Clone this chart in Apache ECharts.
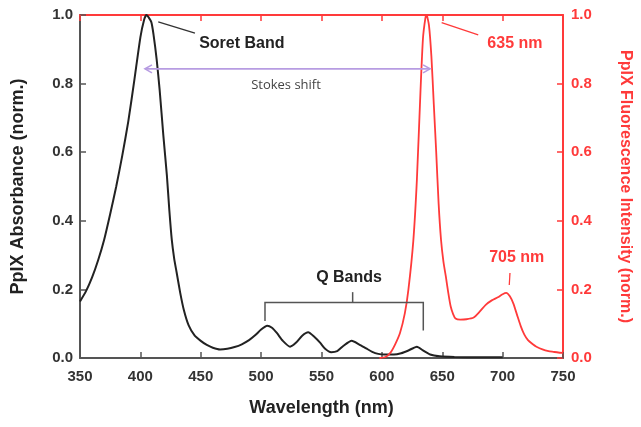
<!DOCTYPE html>
<html><head><meta charset="utf-8">
<script src="https://cdn.jsdelivr.net/npm/echarts@6/dist/echarts.min.js"></script>
<style>html,body{margin:0;padding:0;background:#fff}#c{width:641px;height:427px}</style>
</head><body><div id="c"></div>
<script>
// ---- data ----
const xTicks = [350, 400, 450, 500, 550, 600, 650, 700, 750];
const yTicks = [0.0, 0.2, 0.4, 0.6, 0.8, 1.0];
const absWavelength = [350,355,360,365,370,375,380,385,390,395,400,403,405,409,411,413.5,416,419,422,424,426,428,430,433,436,440,445,450,455,460,466,472,478,484,490,495,500,505,509,513,518,524,529,534,539,544,549,553,558,563,568,575,581,587,592,597,602,610,616,622,629,634,640,648,660,680,700];
const absorbance    = [0.165,0.195,0.235,0.285,0.345,0.42,0.50,0.59,0.69,0.81,0.935,0.985,1.0,0.98,0.94,0.87,0.78,0.65,0.53,0.43,0.345,0.29,0.25,0.19,0.14,0.095,0.065,0.05,0.038,0.03,0.025,0.027,0.032,0.04,0.052,0.066,0.083,0.094,0.088,0.073,0.05,0.033,0.045,0.065,0.075,0.062,0.044,0.027,0.017,0.02,0.035,0.05,0.04,0.028,0.018,0.012,0.01,0.01,0.014,0.022,0.033,0.022,0.01,0.005,0.003,0.002,0.002];
const fluoWavelength = [598,603,607,611,615,619,622,626,629,632,634,636,637,639,641,643,645,647,649,651,653,655,657,659,661,665,670,676,681,686,691,696,700,703,706,709,712,715,718,721,725,728,733,738,742,746,750];
const fluorescence   = [0,0.003,0.015,0.04,0.073,0.13,0.2,0.34,0.52,0.78,0.93,0.99,1.0,0.97,0.88,0.74,0.6,0.45,0.344,0.28,0.237,0.19,0.15,0.128,0.115,0.112,0.113,0.118,0.135,0.155,0.168,0.177,0.186,0.19,0.18,0.158,0.125,0.093,0.068,0.052,0.04,0.033,0.025,0.02,0.018,0.016,0.015];
// annotations in data coordinates (wavelength, value)
const soretLabel = {text: 'Soret Band', at: [484, 0.917]};
const soretPointer = [[414.8, 0.980], [445.2, 0.947]];
const peakLabel = {text: '635 nm', at: [710.2, 0.917]};
const peakPointer = [[649.5, 0.978], [679.8, 0.942]];
const shoulderLabel = {text: '705 nm', at: [711.7, 0.292]};
const shoulderPointer = [[706.1, 0.248], [705.5, 0.213]];
const stokesArrow = [[403.8, 0.843], [639.9, 0.843]];
const stokesLabel = {text: 'Stokes shift', at: [520.6, 0.794]};
const qLabel = {text: 'Q Bands', at: [572.8, 0.233]};
const qBracket = [[503.2, 0.108], [503.2, 0.162], [634.3, 0.162], [634.3, 0.080]];
const qBracketTick = [[575.8, 0.162], [575.8, 0.192]];

const RED = '#ff3a3a', DARK = '#222', AX = '#555';
const chart = echarts.init(document.getElementById('c'), null, {renderer: 'canvas'});
const F = 'Liberation Sans, Arial, sans-serif';
const zip = (a, b) => a.map((v, i) => [v, b[i]]);

chart.setOption({
  animation: false,
  grid: {left: 80, right: 78, top: 15, bottom: 69, containLabel: false},
  xAxis: [{
    type: 'value', min: xTicks[0], max: xTicks[xTicks.length - 1], interval: 50, position: 'bottom',
    name: 'Wavelength (nm)', nameLocation: 'middle', nameGap: 41,
    nameTextStyle: {fontFamily: F, fontWeight: 'bold', fontSize: 18, color: '#222'},
    axisLine: {show: true, onZero: false, lineStyle: {color: AX, width: 2}},
    axisTick: {show: true, inside: true, length: 6, lineStyle: {color: AX, width: 1.5}},
    axisLabel: {margin: 11, fontFamily: F, fontWeight: 'bold', fontSize: 15, color: '#333'},
    splitLine: {show: false}
  }, {
    type: 'value', min: xTicks[0], max: xTicks[xTicks.length - 1], interval: 50, position: 'top',
    axisLine: {show: true, onZero: false, lineStyle: {color: RED, width: 2}},
    axisTick: {show: true, inside: true, length: 6, lineStyle: {color: RED, width: 1.5}},
    axisLabel: {show: false}, splitLine: {show: false}
  }],
  yAxis: [{
    type: 'value', min: 0, max: 1, interval: 0.2, position: 'left',
    name: 'PpIX Absorbance (norm.)', nameLocation: 'middle', nameGap: 53, nameRotate: 90,
    nameTextStyle: {fontFamily: F, fontWeight: 'bold', fontSize: 18, color: '#222'},
    axisLine: {show: true, onZero: false, lineStyle: {color: AX, width: 2}},
    axisTick: {show: true, inside: true, length: 6, lineStyle: {color: AX, width: 1.5}},
    axisLabel: {margin: 7, fontFamily: F, fontWeight: 'bold', fontSize: 15, color: '#333', formatter: v => v.toFixed(1)},
    splitLine: {show: false}
  }, {
    type: 'value', min: 0, max: 1, interval: 0.2, position: 'right',
    name: 'PpIX Fluorescence Intensity (norm.)', nameLocation: 'middle', nameGap: 54, nameRotate: -90,
    nameTextStyle: {fontFamily: F, fontWeight: 'bold', fontSize: 16, color: RED},
    axisLine: {show: true, onZero: false, lineStyle: {color: RED, width: 2}},
    axisTick: {show: true, inside: true, length: 6, lineStyle: {color: RED, width: 1.5}},
    axisLabel: {margin: 8, fontFamily: F, fontWeight: 'bold', fontSize: 15, color: RED, formatter: v => v.toFixed(1)},
    splitLine: {show: false}
  }],
  series: [{
    type: 'line', name: 'Absorbance', xAxisIndex: 0, yAxisIndex: 0,
    data: zip(absWavelength, absorbance), showSymbol: false, smooth: 0.2,
    lineStyle: {color: DARK, width: 2}, z: 3
  }, {
    type: 'line', name: 'Fluorescence', xAxisIndex: 0, yAxisIndex: 1,
    data: zip(fluoWavelength, fluorescence), showSymbol: false, smooth: 0.2,
    lineStyle: {color: RED, width: 1.8}, z: 4
  }]
});

function P(pt) { return chart.convertToPixel({xAxisIndex: 0, yAxisIndex: 0}, pt); }
function line(a, b, color, w) {
  const p = P(a), q = P(b);
  return {type: 'line', shape: {x1: p[0], y1: p[1], x2: q[0], y2: q[1]}, style: {stroke: color, lineWidth: w}, z: 10};
}
function text(lbl, color, font) {
  const p = P(lbl.at);
  return {type: 'text', x: p[0], y: p[1], style: {text: lbl.text, fill: color, font: font, align: 'center', verticalAlign: 'middle'}, z: 10};
}
const g = [];
const BOLD = 'bold 16px ' + F;
g.push(line(soretPointer[0], soretPointer[1], '#333', 1.3));
g.push(text(soretLabel, '#222', BOLD));
g.push(line(peakPointer[0], peakPointer[1], RED, 1.3));
g.push(text(peakLabel, RED, BOLD));
g.push(line(shoulderPointer[0], shoulderPointer[1], RED, 1.3));
g.push(text(shoulderLabel, RED, BOLD));
// Stokes arrow
const PURPLE = '#b79ce2';
g.push(line(stokesArrow[0], stokesArrow[1], PURPLE, 1.6));
const a0 = P(stokesArrow[0]), a1 = P(stokesArrow[1]);
g.push({type: 'polyline', shape: {points: [[a0[0] + 7, a0[1] - 4], [a0[0], a0[1]], [a0[0] + 7, a0[1] + 4]]}, style: {stroke: PURPLE, lineWidth: 1.6, fill: null}, z: 10});
g.push({type: 'polyline', shape: {points: [[a1[0] - 7, a1[1] - 4], [a1[0], a1[1]], [a1[0] - 7, a1[1] + 4]]}, style: {stroke: PURPLE, lineWidth: 1.6, fill: null}, z: 10});
g.push(text(stokesLabel, '#444', '13px "Open Sans", sans-serif'));
// Q bands bracket
g.push({type: 'polyline', shape: {points: qBracket.map(P)}, style: {stroke: '#555', lineWidth: 1.5, fill: null}, z: 10});
g.push(line(qBracketTick[0], qBracketTick[1], '#555', 1.5));
g.push(text(qLabel, '#222', BOLD));
chart.setOption({graphic: g});
</script>
</body></html>
